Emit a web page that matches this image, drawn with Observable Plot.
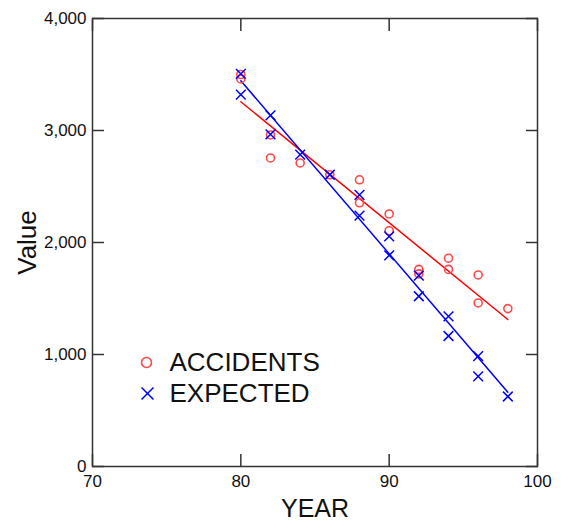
<!DOCTYPE html>
<html>
<head>
<meta charset="utf-8">
<script src="https://cdn.jsdelivr.net/npm/d3@7"></script>
<script src="https://cdn.jsdelivr.net/npm/@observablehq/plot@0.6"></script>
<style>
  html, body { margin: 0; padding: 0; background: #fff; }
</style>
</head>
<body>
<div id="chart"></div>
<script>
const accYears  = [80, 80, 82, 82, 84, 86, 88, 88, 90, 90, 92, 92, 94, 94, 96, 96, 98];
const accidents = [3500, 3460, 2960, 2755, 2710, 2605, 2560, 2355, 2255, 2105, 1760, 1720, 1860, 1760, 1710, 1460, 1410];
const expYears  = [80, 80, 82, 82, 84, 86, 88, 88, 90, 90, 92, 92, 94, 94, 96, 96, 98];
const expected  = [3505, 3320, 3135, 2965, 2785, 2605, 2425, 2240, 2055, 1885, 1705, 1520, 1340, 1165, 985, 805, 625];
const xTicks = [70, 80, 90, 100];
const yTicks = [0, 1000, 2000, 3000, 4000];
const seriesNames = ["ACCIDENTS", "EXPECTED"];

const accData = accYears.map((x, i) => ({x, y: accidents[i]}));
const expData = expYears.map((x, i) => ({x, y: expected[i]}));

const font = "'Liberation Sans', Arial, sans-serif";
const noLabel = () => "";

const chart = Plot.plot({
  width: 562,
  height: 523,
  marginLeft: 92,
  marginRight: 25,
  marginTop: 18,
  marginBottom: 57,
  style: {fontFamily: font, background: "#fff", color: "#111"},
  x: {domain: [70, 100], label: null},
  y: {domain: [0, 4000], label: null},
  marks: [
    // tick labels
    Plot.axisX(xTicks, {anchor: "bottom", tickSize: 0, tickPadding: 8, fontSize: 17, label: null, fill: "#111"}),
    Plot.axisY(yTicks, {anchor: "left", tickSize: 0, tickPadding: 6, fontSize: 17, label: null, tickFormat: d3.format(","), fill: "#111"}),
    // inward ticks on all four sides
    Plot.axisX(xTicks, {anchor: "bottom", tickSize: 12, dy: -12, tickFormat: noLabel, label: null, stroke: "#333", strokeWidth: 1.5}),
    Plot.axisX(xTicks, {anchor: "top", tickSize: 12, dy: 12, tickFormat: noLabel, label: null, stroke: "#333", strokeWidth: 1.5}),
    Plot.axisY(yTicks, {anchor: "left", tickSize: 12, dx: 12, tickFormat: noLabel, label: null, stroke: "#333", strokeWidth: 1.5}),
    Plot.axisY(yTicks, {anchor: "right", tickSize: 12, dx: -12, tickFormat: noLabel, label: null, stroke: "#333", strokeWidth: 1.5}),
    Plot.frame({stroke: "#333", strokeWidth: 1.5}),
    // regression lines
    Plot.linearRegressionY(accData, {x: "x", y: "y", stroke: "#ff0000", strokeWidth: 1.5, ci: 0}),
    Plot.linearRegressionY(expData, {x: "x", y: "y", stroke: "#0000ff", strokeWidth: 1.5, ci: 0}),
    // points
    Plot.dot(accData, {x: "x", y: "y", r: 4, stroke: "#ff4646", strokeWidth: 1.6, symbol: "circle"}),
    Plot.dot(expData, {x: "x", y: "y", r: 4.5, stroke: "#0000ff", strokeWidth: 1.5, symbol: "times"}),
    // axis titles
    Plot.text(["YEAR"], {frameAnchor: "bottom", dy: 42, lineAnchor: "middle", textAnchor: "middle", fontSize: 25, fill: "#111"}),
    Plot.text(["Value"], {frameAnchor: "left", dx: -65, rotate: -90, lineAnchor: "middle", textAnchor: "middle", fontSize: 26, fill: "#111"}),
    // legend
    Plot.dot([seriesNames[0]], {frameAnchor: "top-left", dx: 54, dy: 344, r: 5, stroke: "#ff4646", strokeWidth: 1.6, symbol: "circle"}),
    Plot.dot([seriesNames[1]], {frameAnchor: "top-left", dx: 55, dy: 375, r: 5.5, stroke: "#0000ff", strokeWidth: 1.5, symbol: "times"}),
    Plot.text([seriesNames[0]], {text: d => d, frameAnchor: "top-left", dx: 77, dy: 344, lineAnchor: "middle", textAnchor: "start", fontSize: 26, fill: "#111"}),
    Plot.text([seriesNames[1]], {text: d => d, frameAnchor: "top-left", dx: 77, dy: 375, lineAnchor: "middle", textAnchor: "start", fontSize: 26, fill: "#111"})
  ]
});
document.getElementById("chart").appendChild(chart);
</script>
</body>
</html>
